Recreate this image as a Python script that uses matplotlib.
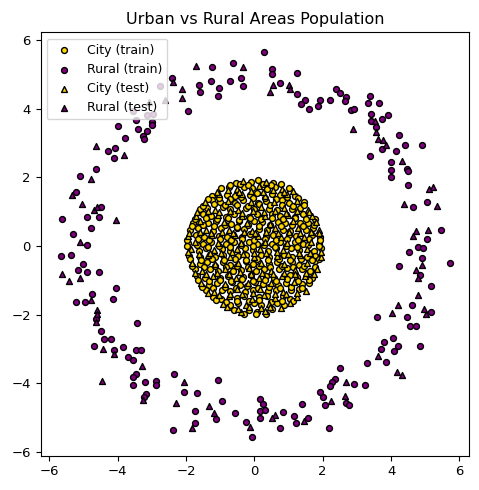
import matplotlib
matplotlib.use("Agg")
import matplotlib.pyplot as plt
import numpy as np

# ---------------- data ----------------
city_train = [
    (-0.55,1.84),(-0.10,1.86),(0.12,1.93),(0.55,1.83),
    (-0.98,1.68),(-0.75,1.73),(-0.30,1.72),(-0.08,1.69),(0.38,1.67),(0.60,1.71),(1.00,1.70),
    (-1.25,1.47),(-0.80,1.49),(-0.58,1.45),(-0.14,1.48),(0.08,1.54),(0.52,1.51),(0.74,1.48),(1.18,1.46),
    (-1.23,1.33),(-1.00,1.27),(-0.56,1.26),(-0.33,1.34),(0.12,1.25),(0.35,1.32),(0.80,1.33),(1.02,1.26),(1.45,1.27),
    (-1.60,1.08),(-1.38,1.12),(-0.93,1.13),(-0.70,1.09),(-0.25,1.12),(-0.02,1.07),(0.43,1.08),(0.65,1.04),(1.10,1.07),(1.33,1.12),
    (-1.50,0.93),(-1.27,0.87),(-0.82,0.86),(-0.60,0.93),(-0.15,0.85),(0.08,0.92),(0.53,0.94),(0.75,0.87),(1.20,0.86),(1.43,0.92),
    (-1.80,0.68),(-1.35,0.66),(-1.13,0.73),(-0.68,0.65),(-0.45,0.72),(0.00,0.73),(0.23,0.69),(0.68,0.71),(0.90,0.67),(1.35,0.68),(1.58,0.66),
    (-1.88,0.47),(-1.65,0.53),(-1.20,0.45),(-0.97,0.52),(-0.52,0.54),(-0.30,0.49),(0.15,0.51),(0.38,0.47),(0.83,0.48),(1.05,0.45),(1.50,0.47),(1.72,0.53),
    (-1.70,0.32),(-1.48,0.26),(-1.03,0.29),(-0.80,0.25),(-0.35,0.27),(-0.12,0.34),(0.33,0.25),(0.55,0.31),(1.00,0.33),(1.23,0.28),(1.68,0.32),(1.92,0.27),
    (-1.95,0.08),(-1.50,0.07),(-1.28,0.13),(-0.83,0.05),(-0.60,0.12),(-0.15,0.13),(0.07,0.07),(0.52,0.06),(0.75,0.12),(1.20,0.13),(1.42,0.07),(1.88,0.06),
    (-1.62,-0.13),(-1.40,-0.07),(-0.95,-0.08),(-0.72,-0.14),(-0.27,-0.06),(-0.05,-0.12),(0.40,-0.13),(0.63,-0.07),(1.08,-0.06),(1.30,-0.12),(1.75,-0.13),(1.95,-0.07),
    (-1.90,-0.28),(-1.60,-0.33),(-1.15,-0.32),(-0.92,-0.26),(-0.47,-0.28),(-0.25,-0.25),(0.20,-0.27),(0.43,-0.33),(0.88,-0.25),(1.10,-0.31),(1.55,-0.33),(1.78,-0.28),
    (-1.60,-0.53),(-1.38,-0.46),(-0.93,-0.47),(-0.70,-0.54),(-0.25,-0.45),(-0.03,-0.52),(0.42,-0.53),(0.65,-0.46),(1.10,-0.47),(1.32,-0.54),(1.77,-0.45),
    (-1.75,-0.68),(-1.30,-0.67),(-1.07,-0.72),(-0.62,-0.73),(-0.40,-0.69),(0.05,-0.72),(0.28,-0.67),(0.73,-0.68),(0.95,-0.65),(1.40,-0.67),(1.62,-0.73),
    (-1.67,-0.88),(-1.45,-0.93),(-1.00,-0.92),(-0.77,-0.87),(-0.32,-0.89),(-0.10,-0.85),(0.35,-0.87),(0.58,-0.93),(1.03,-0.85),(1.25,-0.91),(1.70,-0.92),
    (-1.32,-1.13),(-1.10,-1.07),(-0.65,-1.06),(-0.42,-1.13),(0.03,-1.05),(0.25,-1.12),(0.70,-1.13),(0.93,-1.08),(1.38,-1.11),(1.60,-1.07),
    (-1.40,-1.28),(-0.95,-1.27),(-0.72,-1.32),(-0.27,-1.33),(-0.05,-1.29),(0.40,-1.32),(0.63,-1.27),(1.08,-1.28),(1.30,-1.25),
    (-1.20,-1.48),(-0.97,-1.53),(-0.52,-1.52),(-0.30,-1.46),(0.15,-1.49),(0.38,-1.45),(0.83,-1.47),(1.05,-1.53),
    (-0.70,-1.73),(-0.47,-1.67),(-0.02,-1.66),(0.20,-1.73),(0.65,-1.65),(0.88,-1.72),
    (-0.60,-1.86),(-0.15,-1.87),(0.08,-1.93),(0.52,-1.84),
    # in-between rows
    (-0.72,1.79),(-0.42,1.81),(-0.20,1.78),(0.25,1.82),(0.48,1.78),(0.78,1.80),
    (-1.35,1.38),(-1.02,1.41),(-0.70,1.37),(-0.38,1.42),(-0.03,1.39),(0.30,1.41),(0.62,1.38),(0.95,1.42),(1.28,1.39),
    (-1.50,1.18),(-1.18,1.22),(-0.85,1.19),(-0.52,1.21),(-0.20,1.17),(0.14,1.22),(0.47,1.19),(0.80,1.21),(1.12,1.18),(1.45,1.20),
    (-1.75,0.78),(-1.42,0.82),(-1.10,0.79),(-0.77,0.81),(-0.45,0.77),(-0.12,0.82),(0.20,0.79),(0.53,0.81),(0.85,0.78),(1.18,0.82),(1.50,0.79),(1.78,0.80),
    (-1.82,0.58),(-1.50,0.62),(-1.17,0.59),(-0.85,0.61),(-0.52,0.57),(-0.20,0.62),(0.13,0.59),(0.45,0.61),(0.78,0.58),(1.10,0.62),(1.43,0.59),(1.75,0.61),
    (-1.97,0.18),(-1.65,0.22),(-1.32,0.19),(-1.00,0.21),(-0.67,0.17),(-0.35,0.22),(-0.02,0.19),(0.30,0.21),(0.63,0.18),(0.95,0.22),(1.28,0.19),(1.60,0.21),(1.93,0.18),
    (-1.98,-0.01),(-1.68,0.02),(-1.35,-0.02),(-1.03,0.01),(-0.70,-0.03),(-0.38,0.02),(-0.05,-0.01),(0.27,0.02),(0.60,-0.02),(0.92,0.01),(1.25,-0.03),(1.57,0.02),(1.90,-0.01),
    (-1.88,-0.38),(-1.55,-0.42),(-1.23,-0.39),(-0.90,-0.41),(-0.58,-0.37),(-0.25,-0.42),(0.07,-0.39),(0.40,-0.41),(0.72,-0.38),(1.05,-0.42),(1.37,-0.39),(1.70,-0.41),(1.90,-0.38),
    (-1.82,-0.58),(-1.48,-0.62),(-1.15,-0.59),(-0.83,-0.61),(-0.50,-0.57),(-0.18,-0.62),(0.15,-0.59),(0.47,-0.61),(0.80,-0.58),(1.12,-0.62),(1.45,-0.59),(1.78,-0.61),
    (-1.65,-0.98),(-1.33,-1.02),(-1.00,-0.99),(-0.68,-1.01),(-0.35,-0.97),(-0.03,-1.02),(0.30,-0.99),(0.62,-1.01),(0.95,-0.97),(1.27,-1.02),(1.60,-0.99),
    (-1.52,-1.18),(-1.20,-1.22),(-0.87,-1.19),(-0.55,-1.21),(-0.22,-1.17),(0.10,-1.22),(0.43,-1.19),(0.75,-1.21),(1.08,-1.18),(1.40,-1.22),
    (-1.13,-1.58),(-0.82,-1.62),(-0.50,-1.59),(-0.17,-1.61),(0.15,-1.57),(0.48,-1.62),(0.80,-1.59),(1.12,-1.61),
    (-0.30,-1.97),(0.05,-1.99),(0.35,-1.97),
]
city_test = [
    (-0.33,1.91),(0.35,1.87),
    (-0.52,1.66),(0.15,1.74),(0.82,1.65),
    (-1.03,1.53),(-0.36,1.52),(0.30,1.46),(0.96,1.53),
    (-1.45,1.28),(-0.78,1.31),(-0.10,1.29),(0.57,1.28),(1.24,1.31),
    (-1.15,1.06),(-0.48,1.05),(0.20,1.13),(0.88,1.11),(1.58,1.06),
    (-1.72,0.88),(-1.05,0.91),(-0.37,0.89),(0.30,0.88),(0.98,0.91),(1.68,0.88),
    (-1.58,0.72),(-0.90,0.69),(-0.22,0.67),(0.45,0.65),(1.13,0.73),(1.80,0.71),
    (-1.42,0.48),(-0.75,0.47),(-0.07,0.45),(0.60,0.53),(1.28,0.52),(1.90,0.46),
    (-1.93,0.28),(-1.25,0.33),(-0.58,0.32),(0.10,0.29),(0.78,0.27),(1.45,0.25),
    (-1.73,0.12),(-1.05,0.09),(-0.38,0.08),(0.30,0.11),(0.97,0.08),(1.65,0.11),
    (-1.85,-0.09),(-1.17,-0.12),(-0.50,-0.09),(0.18,-0.08),(0.85,-0.11),(1.53,-0.08),
    (-1.37,-0.27),(-0.70,-0.33),(-0.02,-0.32),(0.65,-0.28),(1.33,-0.27),(1.96,-0.32),
    (-1.83,-0.48),(-1.15,-0.52),(-0.48,-0.49),(0.20,-0.48),(0.87,-0.51),(1.55,-0.49),
    (-1.52,-0.73),(-0.85,-0.66),(-0.17,-0.65),(0.50,-0.73),(1.18,-0.71),(1.82,-0.68),
    (-1.22,-0.86),(-0.55,-0.94),(0.13,-0.92),(0.80,-0.88),(1.48,-0.87),
    (-1.55,-1.08),(-0.87,-1.12),(-0.20,-1.09),(0.48,-1.07),(1.15,-1.05),
    (-1.17,-1.33),(-0.50,-1.26),(0.18,-1.25),(0.85,-1.33),(1.50,-1.31),
    (-0.75,-1.47),(-0.07,-1.53),(0.60,-1.52),(1.25,-1.48),
    (-0.92,-1.68),(-0.25,-1.72),(0.43,-1.69),(1.05,-1.67),
    (-0.38,-1.92),(0.30,-1.88),
    # in-between rows
    (-1.10,1.58),(-0.78,1.62),(-0.45,1.59),(-0.10,1.61),(0.25,1.57),(0.55,1.62),(0.88,1.59),(1.12,1.60),
    (-1.68,0.98),(-1.35,1.02),(-1.02,0.99),(-0.70,1.01),(-0.37,0.97),(-0.05,1.02),(0.28,0.99),(0.60,1.01),(0.93,0.97),(1.25,1.02),(1.60,0.99),
    (-1.90,0.38),(-1.60,0.42),(-1.27,0.39),(-0.95,0.41),(-0.62,0.37),(-0.30,0.42),(0.03,0.39),(0.35,0.41),(0.68,0.38),(1.00,0.42),(1.33,0.39),(1.65,0.41),(1.90,0.38),
    (-1.95,-0.18),(-1.62,-0.22),(-1.30,-0.19),(-0.97,-0.21),(-0.65,-0.17),(-0.32,-0.22),(0.00,-0.19),(0.33,-0.21),(0.65,-0.18),(0.98,-0.22),(1.30,-0.19),(1.63,-0.21),(1.95,-0.18),
    (-1.75,-0.78),(-1.40,-0.82),(-1.08,-0.79),(-0.75,-0.81),(-0.43,-0.77),(-0.10,-0.82),(0.22,-0.79),(0.55,-0.81),(0.87,-0.78),(1.20,-0.82),(1.52,-0.79),(1.76,-0.80),
    (-1.35,-1.38),(-1.02,-1.42),(-0.70,-1.39),(-0.37,-1.41),(-0.05,-1.37),(0.28,-1.42),(0.60,-1.39),(0.93,-1.41),(1.25,-1.38),
    (-0.80,-1.78),(-0.48,-1.82),(-0.17,-1.79),(0.20,-1.81),(0.45,-1.78),(0.78,-1.80),
]
rural_train = [
    (-2.41,4.90),(-1.93,3.93),(-2.77,4.66),(-3.55,3.94),(-3.14,3.81),(-2.96,3.86),
    (-3.45,3.66),(-2.98,3.63),(-2.99,3.52),(-3.98,3.49),(-3.41,3.40),(-3.14,3.34),(-3.25,3.20),
    (-3.22,3.13),(-3.77,3.15),(-4.09,2.86),(-4.29,2.76),(-4.11,2.57),(-4.64,2.25),(-5.09,2.05),
    (-1.23,5.21),(-0.61,5.33),(0.29,5.65),(-1.61,4.69),(-1.58,4.48),(-1.26,4.82),(-1.02,4.60),
    (-1.05,4.36),(-0.70,4.82),(-0.38,4.90),(-0.32,4.66),(0.53,5.15),(0.53,5.02),(1.26,5.03),
    (0.76,4.74),(1.26,4.42),(1.49,4.25),(1.37,4.15),(1.61,4.00),(1.93,4.25),(1.87,4.07),(2.22,4.25),
    (2.40,4.57),(2.50,4.45),(2.69,4.34),(2.65,4.23),(2.82,3.96),(2.91,3.99),(3.39,4.37),(3.32,4.17),
    (3.65,4.16),(3.42,3.85),(3.92,3.81),(3.74,3.69),(3.41,3.64),(3.55,3.46),(3.74,2.82),(4.24,3.23),
    (4.40,2.94),(4.91,2.94),(4.15,2.77),(3.39,2.62),(4.00,2.45),(4.00,2.22),(4.46,2.25),(4.50,2.18),
    (4.01,2.02),(4.50,1.77),(4.65,1.13),(5.06,1.28),(5.47,0.46),(5.05,0.22),(4.80,-0.04),(4.94,-0.07),
    (4.53,-0.18),(4.91,-0.36),(5.73,-0.48),(4.23,-0.58),(4.84,-0.85),(5.18,-1.17),(4.62,-1.72),
    (5.18,-1.92),(3.60,-2.08),(4.46,-2.08),
    (4.56,-2.34),(4.74,-2.34),(4.06,-2.69),(3.80,-2.81),(4.21,-2.92),(4.85,-2.92),(3.71,-3.01),
    (4.09,-3.07),(3.86,-3.38),(3.30,-3.41),(2.51,-3.54),(2.36,-3.87),(2.26,-3.95),(2.20,-4.09),
    (2.92,-4.02),(3.25,-4.06),(2.69,-4.58),(2.76,-4.62),(2.18,-5.29),
    (-1.05,-3.89),(-1.67,-4.29),(-0.96,-4.52),(-1.11,-5.04),(-1.73,-4.82),(-1.75,-5.16),(-0.58,-4.88),
    (-0.23,-5.14),(-0.06,-5.57),(0.18,-4.46),(0.26,-4.60),(0.18,-4.82),(0.32,-4.78),(0.18,-5.02),
    (0.85,-4.85),(0.76,-5.29),(1.17,-4.94),(1.40,-4.59),(1.23,-5.17),(1.58,-5.01),(1.93,-4.24),
    (2.02,-4.41),(2.08,-4.62),
    (-4.62,-2.14),(-3.42,-2.25),(-4.50,-2.49),(-4.39,-2.70),(-4.18,-2.72),(-4.68,-2.92),(-4.11,-3.02),
    (-3.83,-2.94),(-3.45,-3.04),(-3.33,-3.04),(-3.71,-3.24),(-3.54,-3.33),(-3.45,-3.73),(-3.54,-3.83),
    (-3.54,-4.06),(-3.19,-3.97),(-2.87,-3.92),(-2.89,-4.06),(-3.16,-4.32),(-3.23,-4.39),(-2.35,-3.73),
    (-2.05,-4.26),(-2.38,-5.37),
    (-5.23,1.57),(-5.62,0.79),(-4.91,0.85),(-4.50,1.13),(-4.55,0.84),(-4.77,0.52),(-5.30,0.34),
    (-4.89,0.03),(-5.67,-0.29),(-5.36,-0.26),(-5.02,-0.53),(-5.15,-0.70),(-4.89,-0.75),(-4.55,-0.77),
    (-4.06,-1.23),(-4.14,-1.55),(-4.75,-1.39),(-5.23,-1.62),(-4.96,-1.62),
]
rural_test = [
    (-2.38,4.78),(-2.13,4.57),(-2.11,4.32),(-2.61,4.27),(-3.09,4.20),(-4.64,2.91),(-3.82,2.66),
    (-1.70,5.24),(-0.32,5.23),(0.56,4.69),(0.47,4.49),(1.01,4.70),(1.05,4.57),
    (3.53,3.64),(3.57,3.32),(2.89,3.40),(3.63,3.12),(3.76,3.08),(3.84,2.95),(4.33,2.47),
    (5.23,1.73),(5.11,1.65),(4.39,1.23),(5.34,1.17),(4.74,0.44),(4.64,0.30),(5.08,0.47),
    (4.91,-0.55),(4.74,-0.70),(4.80,-0.94),(4.79,-1.43),(4.21,-1.72),(4.96,-1.84),(4.04,-1.96),(5.01,-1.99),
    (3.63,-3.19),(4.18,-3.67),(4.33,-3.75),(2.69,-3.97),(2.65,-4.36),(2.23,-4.51),
    (-1.32,-4.66),(-1.17,-4.87),(-1.82,-5.29),(-0.12,-5.26),(0.61,-4.92),(0.52,-5.01),(1.46,-5.09),
    (-4.62,-2.22),(-4.42,-2.99),(-4.11,-3.14),(-3.29,-3.49),(-4.47,-3.93),(-3.27,-4.48),(-2.05,-3.97),(-2.28,-4.57),
    (-4.77,1.95),(-5.33,1.49),(-5.04,1.22),(-4.70,1.05),(-4.60,1.15),(-4.04,0.76),(-5.09,0.13),
    (-5.62,-0.82),(-5.43,-1.02),(-5.09,-0.92),(-4.77,-1.57),(-4.60,-1.87),(-4.60,-1.99),
]
series_labels = ["City (train)", "Rural (train)", "City (test)", "Rural (test)"]
title_text = "Urban vs Rural Areas Population"
tick_values = [-6, -4, -2, 0, 2, 4, 6]

# ---------------- plot ----------------
fig = plt.figure(figsize=(4.79, 4.90), dpi=100)
ax = fig.add_axes([40.7/479, 1-455.7/490, (469-40.7)/479, (455.7-32.3)/490])

city_color = "#FFD700"
rural_color = "#800080"
ms = 18
for pts, col, mk, lab in [(city_train, city_color, "o", series_labels[0]),
                          (rural_train, rural_color, "o", series_labels[1]),
                          (city_test, city_color, "^", series_labels[2]),
                          (rural_test, rural_color, "^", series_labels[3])]:
    arr = np.array(pts)
    ax.scatter(arr[:, 0], arr[:, 1], c=col, marker=mk, s=ms,
               edgecolors="black", linewidths=1.0, label=lab)

ax.set_xlim(-6.25, 6.28)
ax.set_ylim(-6.11, 6.23)
ax.set_xticks(tick_values)
ax.set_yticks(tick_values)
ax.tick_params(labelsize=9.5)
ax.set_title(title_text, fontsize=11.5)
ax.legend(loc="upper left", fontsize=9)

fig.savefig("out.png", dpi=100)
